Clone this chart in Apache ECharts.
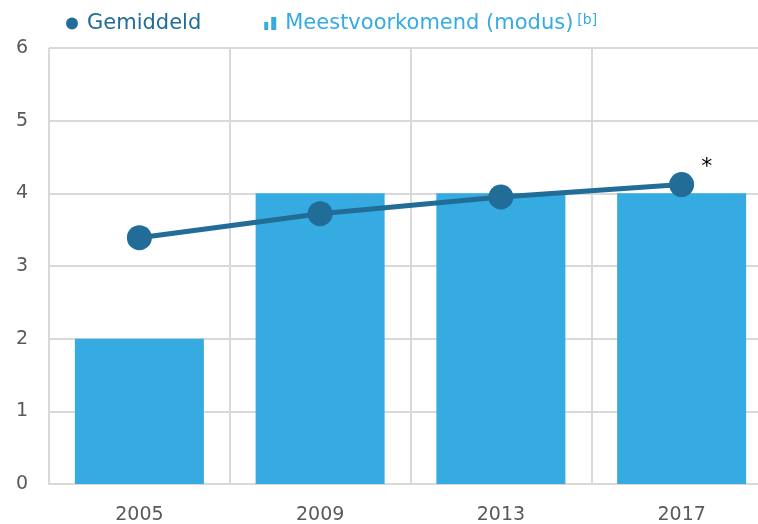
<!DOCTYPE html>
<html>
<head>
<meta charset="utf-8">
<script src="https://cdn.jsdelivr.net/npm/echarts@6/dist/echarts.min.js"></script>
<style>
  html, body { margin: 0; padding: 0; background: #fff; }
  #chart { width: 758px; height: 524px; }
</style>
</head>
<body>
<div id="chart"></div>
<script>
const years = ["2005", "2009", "2013", "2017"];
const modus = [2, 4, 4, 4];
const gemiddeld = [3.39, 3.72, 3.95, 4.12];
const yTicks = [0, 1, 2, 3, 4, 5, 6];

const lineColor = "#226D98";
const barColor = "#35ABE2";
const gridColor = "#D9D9D9";
const font = "DejaVu Sans";

const chart = echarts.init(document.getElementById("chart"));

const options = {
  animation: false,
  textStyle: { fontFamily: font },
  // plot runs past the right edge of the canvas, as in the original
  grid: {
    left: 49,
    top: 48,
    width: 723,
    bottom: 40,
    containLabel: false,
    outerBoundsMode: "none",
  },
  legend: {
    left: 61,
    top: 8,
    itemWidth: 12,
    itemHeight: 13,
    itemGap: 63,
    textStyle: {
      fontFamily: font,
      fontSize: 21,
      padding: [0, 0, 0, 4],
      rich: {
        sup: { fontSize: 14, verticalAlign: "top", lineHeight: 14, padding: [0, 0, 9, 4] },
      },
    },
    formatter: (name) =>
      name === "Meestvoorkomend (modus)" ? name + "{sup|[b]}" : name,
    data: [
      { name: "Gemiddeld", icon: "circle", textStyle: { color: lineColor } },
      {
        name: "Meestvoorkomend (modus)",
        icon: "path://M0,5h4v8h-4z M7,0h5v13h-5z",
        textStyle: { color: barColor },
      },
    ],
  },
  xAxis: {
    type: "category",
    data: years,
    boundaryGap: true,
    axisLine: { lineStyle: { color: gridColor, width: 2 } },
    axisTick: { show: false },
    axisLabel: { color: "#595959", fontSize: 19, margin: 22, fontFamily: font },
    splitLine: { show: true, lineStyle: { color: gridColor, width: 2 } },
  },
  yAxis: {
    type: "value",
    min: yTicks[0],
    max: yTicks[yTicks.length - 1],
    interval: 1,
    axisLine: { show: false },
    axisTick: { show: false },
    axisLabel: { color: "#595959", fontSize: 19, margin: 21, fontFamily: font },
    splitLine: { lineStyle: { color: gridColor, width: 2 } },
  },
  series: [
    {
      name: "Meestvoorkomend (modus)",
      type: "bar",
      data: modus,
      barWidth: 129,
      itemStyle: { color: barColor },
      z: 2,
    },
    {
      name: "Gemiddeld",
      type: "line",
      data: gemiddeld.map((v, i) =>
        i === gemiddeld.length - 1
          ? {
              value: v,
              label: {
                show: true,
                formatter: "*",
                position: "inside",
                offset: [25, -17],
                color: "#000",
                fontSize: 22,
                fontFamily: font,
              },
            }
          : v
      ),
      symbol: "circle",
      symbolSize: 25,
      lineStyle: { color: lineColor, width: 5 },
      itemStyle: { color: lineColor },
      z: 3,
    },
  ],
};

chart.setOption(options);
</script>
</body>
</html>
